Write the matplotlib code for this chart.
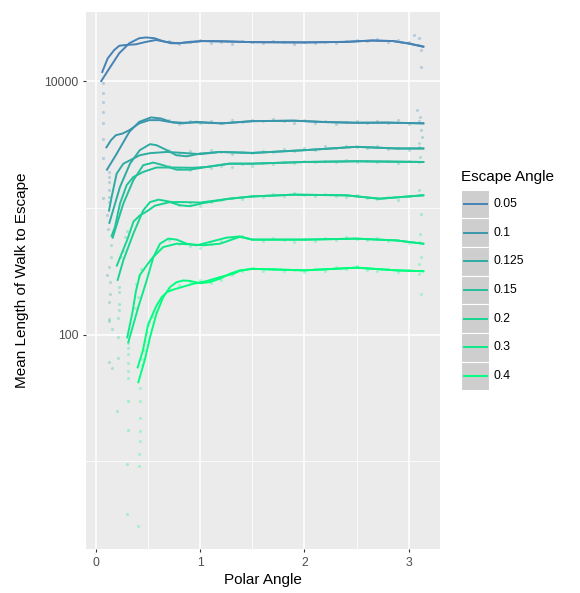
import matplotlib
matplotlib.use("Agg")
import matplotlib.pyplot as plt
from matplotlib.patches import Rectangle
from matplotlib.lines import Line2D

plt.rcParams["font.family"] = ["Liberation Sans", "DejaVu Sans"]

escape_angles = ["0.05", "0.1", "0.125", "0.15", "0.2", "0.3", "0.4"]
group_colors = ["#4682B4", "#3A97AB", "#2FACA2", "#23C09A", "#17D591", "#0CEA88", "#00FF7F"]

# overshooting fitted curve, one list per escape angle
fit_theta = [
    [0.05, 0.128, 0.223, 0.32, 0.415, 0.48, 0.56, 0.64, 0.72, 0.8, 0.895, 1.02, 1.21, 1.5, 2.0, 2.4, 2.65, 2.85, 3.0, 3.14],
    [0.105, 0.19, 0.32, 0.415, 0.527, 0.623, 0.735, 0.83, 0.96, 1.21, 1.5, 1.9, 2.2, 2.5, 2.8, 3.14],
    [0.128, 0.23, 0.326, 0.42, 0.518, 0.58, 0.68, 0.77, 0.87, 1.0, 1.19, 1.5, 2.0, 2.5, 2.88, 3.14],
    [0.16, 0.262, 0.358, 0.453, 0.55, 0.645, 0.77, 0.9, 1.06, 1.28, 1.5, 2.0, 2.5, 3.14],
    [0.208, 0.262, 0.358, 0.453, 0.518, 0.6, 0.68, 0.805, 0.9, 1.03, 1.28, 1.5, 1.9, 2.4, 2.72, 3.14],
    [0.31, 0.406, 0.486, 0.55, 0.614, 0.693, 0.774, 0.87, 0.965, 1.09, 1.25, 1.38, 1.5, 2.0, 2.5, 2.88, 3.14],
    [0.406, 0.47, 0.518, 0.58, 0.645, 0.71, 0.774, 0.837, 0.9, 1.0, 1.09, 1.19, 1.285, 1.38, 1.5, 2.0, 2.5, 2.88, 3.14],
]
fit_length = [
    [10000, 12600, 16600, 19900, 21800, 22100, 21800, 20700, 19900, 19900, 20400, 20700, 20600, 20300, 20200, 20400, 20900, 20700, 19800, 18700],
    [2000, 2600, 3980, 4770, 5170, 5070, 4710, 4640, 4770, 4640, 4830, 4870, 4750, 4690, 4700, 4640],
    [760, 1460, 2230, 2850, 3180, 3120, 2850, 2600, 2550, 2680, 2760, 2710, 2850, 3030, 2940, 2940],
    [581, 1080, 1650, 2170, 2275, 2170, 2000, 2000, 2100, 2230, 2230, 2300, 2330, 2300],
    [270, 385, 625, 955, 1110, 1160, 1130, 1047, 1030, 1090, 1180, 1230, 1270, 1255, 1180, 1255],
    [87, 165, 267, 408, 521, 571, 561, 521, 506, 537, 581, 595, 561, 561, 571, 553, 521],
    [42, 64, 95, 146, 197, 237, 259, 267, 265, 254, 259, 276, 302, 321, 330, 321, 337, 321, 316],
]

# loess smooth through the simulated points
smooth_theta = [
    [0.06, 0.08, 0.112, 0.175, 0.223, 0.29, 0.38, 0.48, 0.575, 0.67, 0.77, 0.895, 1.02, 1.21, 1.5, 2.0, 2.4, 2.65, 2.85, 3.0, 3.14],
    [0.10, 0.144, 0.19, 0.256, 0.32, 0.415, 0.51, 0.607, 0.70, 0.83, 0.96, 1.21, 1.5, 1.9, 2.2, 2.5, 2.8, 3.14],
    [0.125, 0.15, 0.198, 0.262, 0.326, 0.42, 0.518, 0.68, 0.84, 1.0, 1.19, 1.5, 2.0, 2.5, 2.88, 3.14],
    [0.15, 0.182, 0.23, 0.294, 0.358, 0.453, 0.58, 0.74, 0.93, 1.06, 1.28, 1.5, 2.0, 2.5, 3.14],
    [0.2, 0.262, 0.3, 0.36, 0.42, 0.49, 0.566, 0.71, 0.84, 1.0, 1.28, 1.5, 1.9, 2.4, 2.72, 3.14],
    [0.30, 0.35, 0.383, 0.42, 0.453, 0.486, 0.534, 0.58, 0.645, 0.774, 0.9, 1.03, 1.19, 1.38, 1.5, 2.0, 2.5, 2.88, 3.14],
    [0.40, 0.45, 0.5, 0.58, 0.63, 0.68, 0.74, 0.84, 0.93, 1.06, 1.19, 1.32, 1.38, 1.5, 2.0, 2.5, 2.88, 3.14],
]
smooth_length = [
    [11800, 13000, 15100, 17600, 19000, 19300, 19500, 20400, 21100, 20400, 19900, 20200, 20700, 20600, 20300, 20200, 20400, 20900, 20700, 19800, 18700],
    [3000, 3420, 3740, 3860, 4100, 4640, 4920, 4920, 4770, 4690, 4720, 4640, 4830, 4870, 4750, 4690, 4700, 4640],
    [950, 1220, 1860, 2230, 2370, 2600, 2700, 2760, 2710, 2650, 2760, 2710, 2850, 3030, 2940, 2940],
    [600, 705, 1080, 1510, 1750, 1920, 2080, 2080, 2070, 2100, 2230, 2230, 2300, 2330, 2300],
    [350, 470, 560, 780, 870, 940, 1040, 1110, 1110, 1100, 1180, 1230, 1270, 1255, 1180, 1255],
    [95, 150, 220, 295, 321, 351, 396, 434, 490, 521, 515, 506, 521, 590, 561, 561, 571, 553, 521],
    [55, 75, 120, 169, 197, 216, 226, 239, 251, 264, 284, 302, 318, 330, 321, 337, 321, 316],
]

# raw points that stand apart from the curves (low angles and the far end)
point_theta = [
    [0.07, 0.07, 0.07, 0.07, 0.07, 0.07, 0.07, 0.07, 3.05, 3.1, 3.12, 3.12],
    [0.12, 0.12, 0.12, 0.12, 0.12, 0.12, 0.105, 0.112, 0.105, 3.08, 3.11, 3.12, 3.13],
    [0.128, 0.137, 0.134, 0.128, 0.128, 0.128, 0.128, 3.1],
    [0.144, 0.144, 0.153, 0.153, 3.11],
    [0.208, 0.208, 0.208, 0.2, 0.223, 0.223, 0.223, 0.223, 0.24, 0.256, 0.28, 0.30, 3.1, 3.12],
    [0.31, 0.31, 0.31, 0.31, 0.31, 0.31, 0.31, 0.31, 0.30, 0.30, 0.383, 0.4, 0.377, 0.415, 0.43, 3.11, 3.12],
    [0.42, 0.42, 0.42, 0.42, 0.42, 0.41, 0.41, 0.405, 0.44, 0.44, 0.463, 0.473, 0.486, 0.5, 0.51, 0.54, 0.575, 3.1, 3.12],
]
point_length = [
    [9590, 8000, 6790, 5710, 4680, 3520, 2480, 1205, 23100, 21700, 17600, 13000],
    [1920, 1750, 1600, 1375, 1217, 1110, 873, 686, 293, 5900, 5220, 4100, 3630],
    [340, 259, 210, 180, 133, 129, 61, 3220],
    [506, 409, 110, 54, 2520],
    [136, 95, 65, 25, 237, 216, 175, 155, 408, 460, 590, 660, 1375, 900],
    [86, 78, 70, 60, 52, 45, 30, 17.7, 9.5, 3.8, 252, 197, 163, 292, 330, 625, 408],
    [38, 30, 22, 17.2, 14.5, 11.4, 9.1, 3.1, 64, 57, 75, 89, 104, 118, 125, 137, 150, 360, 210],
]

# scatter band along the plateau, read every 0.1 rad
cloud_theta = [0.7, 0.8, 0.9, 1.0, 1.1, 1.2, 1.3, 1.4, 1.5, 1.6, 1.7, 1.8, 1.9,
               2.0, 2.1, 2.2, 2.3, 2.4, 2.5, 2.6, 2.7, 2.8, 2.9, 3.0, 3.1]
cloud_length = [
    [20600, 19700, 20300, 21000, 20100, 20500, 19800, 20700, 20200, 19900, 20600, 20300, 19800,
     20500, 20100, 20400, 19900, 20700, 21200, 20600, 21300, 20400, 21000, 20200, 19200],
    [4900, 4600, 4800, 4650, 4850, 4700, 4900, 4750, 4950, 4800, 5000, 4850, 4700,
     4900, 4650, 4800, 4600, 4750, 4850, 4650, 4800, 4700, 4900, 4600, 4800],
    [2880, 2650, 2800, 2720, 2850, 2780, 2680, 2760, 2700, 2820, 2780, 2900, 2830,
     2960, 2880, 3050, 2980, 3100, 3000, 2950, 3050, 2900, 2980, 2880, 3000],
    [2150, 2050, 2000, 2100, 2050, 2150, 2100, 2200, 2150, 2250, 2200, 2300, 2250,
     2330, 2280, 2350, 2300, 2380, 2300, 2350, 2280, 2330, 2250, 2350, 2300],
    [1130, 1060, 1100, 1040, 1120, 1150, 1200, 1180, 1250, 1220, 1280, 1240, 1300,
     1260, 1230, 1280, 1240, 1220, 1260, 1200, 1170, 1210, 1160, 1230, 1270],
    [560, 520, 500, 480, 520, 550, 580, 600, 570, 550, 580, 560, 540,
     570, 550, 580, 560, 590, 570, 555, 580, 545, 560, 530, 540],
    [230, 245, 262, 270, 255, 270, 295, 320, 335, 320, 330, 315, 325,
     310, 330, 320, 340, 330, 345, 325, 315, 330, 310, 325, 300],
]

W, H = 580, 593
fig = plt.figure(figsize=(W / 100, H / 100), dpi=100)
ax = fig.add_axes([86 / W, 1 - 549 / H, (440 - 86) / W, (549 - 12) / H])
ax.set_facecolor("#EBEBEB")
for s in ax.spines.values():
    s.set_visible(False)

ax.set_yscale("log")
ax.set_xlim(-0.096, 3.30)
ax.set_ylim(2.03, 35100)

ax.set_xticks([0, 1, 2, 3])
ax.set_xticklabels(["0", "1", "2", "3"])
ax.set_xticks([0.5, 1.5, 2.5], minor=True)
ax.set_yticks([100, 10000])
ax.set_yticklabels(["100", "10000"])
ax.set_yticks([10, 1000], minor=True)
ax.set_yticklabels([], minor=True)
ax.grid(which="major", color="white", linewidth=1.1)
ax.grid(which="minor", color="white", linewidth=0.55)
ax.set_axisbelow(True)
ax.tick_params(which="major", length=2.5, width=0.8, color="#333333",
               labelsize=8.8, labelcolor="#4D4D4D", pad=3)
ax.tick_params(which="minor", length=0)

for i in range(len(escape_angles)):
    ax.scatter(point_theta[i], point_length[i], s=5, color=group_colors[i],
               alpha=0.3, linewidths=0, zorder=2)
    ax.scatter(cloud_theta, cloud_length[i], s=5, color=group_colors[i],
               alpha=0.3, linewidths=0, zorder=2)

for i in range(len(escape_angles)):
    ax.plot(smooth_theta[i], smooth_length[i], color=group_colors[i], lw=1.4,
            solid_joinstyle="round", zorder=3)
    ax.plot(fit_theta[i], fit_length[i], color=group_colors[i], lw=1.4,
            solid_joinstyle="round", zorder=3)

fig.text(263 / W, 1 - 580 / H, "Polar Angle", fontsize=11, ha="center", va="center")
fig.text(22 / W, 1 - 280 / H, "Mean Length of Walk to Escape", fontsize=11,
         rotation=90, ha="center", va="center")

# legend
fig.text(461 / W, 1 - 177 / H, "Escape Angle", fontsize=11, ha="left", va="center")
key_h = 28.7
for i, lab in enumerate(escape_angles):
    top = 189.5 + i * key_h
    fig.patches.append(Rectangle((461 / W, 1 - (top + key_h) / H), 28 / W, key_h / H,
                                 transform=fig.transFigure, facecolor="#CECECE",
                                 edgecolor="white", linewidth=0.8))
    yc = 1 - (top + key_h / 2) / H
    fig.lines.append(Line2D([463.5 / W, 486.5 / W], [yc, yc], transform=fig.transFigure,
                            color=group_colors[i], lw=1.4))
    fig.text(493 / W, yc, lab, fontsize=8.8, ha="left", va="center")

fig.savefig("out.png", dpi=100)
